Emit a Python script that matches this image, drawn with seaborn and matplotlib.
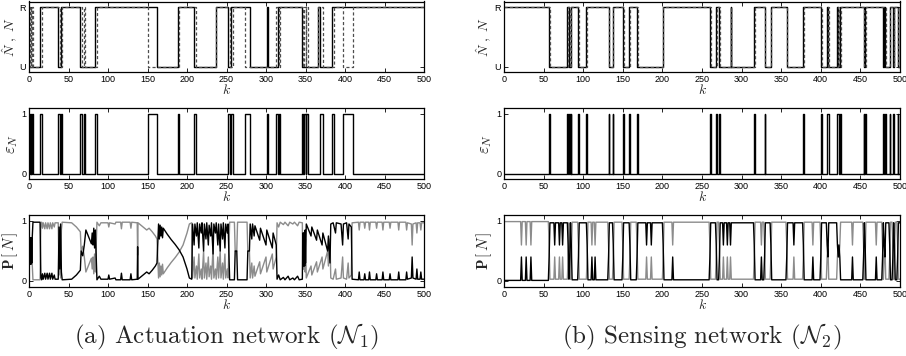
import numpy as np
import pandas as pd
import matplotlib
matplotlib.use("Agg")
import matplotlib.pyplot as plt
import seaborn as sns

# ---------------- data ----------------
K_MAX = 500
x_ticks = [0, 50, 100, 150, 200, 250, 300, 350, 400, 450, 500]
state_labels = ["U", "R"]
captions = [r"(a) Actuation network ($\mathcal{N}_1$)", r"(b) Sensing network ($\mathcal{N}_2$)"]

# true network state N: intervals [start, end) in which N = U (0), otherwise R (1)
n_left_U = [(0, 14), (37, 40), (65, 84), (162, 188), (209, 237), (252, 256), (280, 301),
            (303, 315), (345, 366), (368, 384)]
n_right_U = [(57, 80), (82, 84), (94, 104), (132, 137), (150, 158), (168, 201), (260, 268),
             (272, 286), (287, 316), (329, 337), (357, 378), (400, 408), (409, 421), (422, 424),
             (454, 456), (479, 480), (481, 487), (491, 493), (497, 500)]

# estimation error eps_N: intervals [start, end) where eps_N = 1
eps_left = [(0, 1), (2, 3), (4, 5), (14, 16), (37, 39), (40, 42), (65, 67), (69, 71), (84, 86),
            (151, 162), (188, 190), (209, 211), (252, 254), (256, 258), (273, 280), (301, 303),
            (313, 315), (316, 318), (345, 347), (348, 350), (351, 353), (368, 372), (384, 386),
            (398, 410)]
eps_right = [(57, 58), (80, 81), (82, 83), (84, 85), (94, 95), (104, 105), (132, 133), (137, 138),
             (150, 151), (158, 159), (168, 169), (260, 261), (268, 269), (272, 273), (316, 317),
             (329, 330), (378, 379), (400, 401), (408, 409), (409, 410), (421, 422), (422, 423),
             (424, 425), (454, 455), (456, 457), (479, 480), (481, 482), (487, 488), (491, 492),
             (497, 498)]

# probability trace P[N] (black), as (k, value) vertices
p_left_pts = [(0, 0.5), (0.5, 0.28), (1, 0.72), (1.5, 0.28), (2, 0.72), (2.5, 0.28), (3, 0.72),
    (3.5, 0.3), (4, 0.7), (5, 0.98), (14, 0.98), (15, 0.05), (16, 0.02), (17, 0.12), (18, 0.03),
    (20, 0.13), (21, 0.03), (23, 0.13), (24, 0.03), (26, 0.13), (27, 0.03), (29, 0.13), (30, 0.03),
    (32, 0.1), (33, 0.03), (37, 0.03), (38, 0.9), (39, 0.2), (40, 0.95), (41, 0.15), (42, 0.02),
    (54, 0.03), (60, 0.1), (65, 0.18), (66, 0.5), (68, 0.42), (70, 0.6), (72, 0.85), (79, 0.62),
    (80, 0.8), (81, 0.6), (82, 0.88), (83, 0.55), (84, 0.85), (86, 0.02), (89, 0.08), (91, 0.03),
    (100, 0.03), (101, 0.1), (102, 0.03), (109, 0.05), (110, 0.02), (116, 0.02), (117, 0.13),
    (118, 0.02), (128, 0.02), (129, 0.12), (130, 0.02), (137, 0.03), (137.5, 0.57), (138, 0.03),
    (149, 0.15), (152, 0.12), (156, 0.18), (160, 0.25), (162, 0.3), (164, 0.95), (165, 0.7),
    (166, 0.93), (167, 0.75), (168, 0.9), (169, 0.72), (170, 0.88), (175, 0.78), (180, 0.69),
    (185, 0.61), (190, 0.52), (195, 0.4), (200, 0.2), (203, 0.05), (206, 0.03), (207, 0.95),
    (209, 0.6), (210, 0.95), (212, 0.75), (213, 0.97), (215, 0.55), (216, 0.95), (218, 0.8),
    (219, 0.97), (221, 0.5), (222, 0.95), (224, 0.7), (225, 0.97), (227, 0.6), (228, 0.93),
    (230, 0.75), (231, 0.97), (233, 0.45), (234, 0.95), (236, 0.8), (237, 0.97), (239, 0.6),
    (240, 0.95), (242, 0.5), (243, 0.95), (245, 0.7), (246, 0.97), (248, 0.55), (249, 0.95),
    (251, 0.8), (252, 0.95), (254, 0.02), (260, 0.02), (261, 0.5), (263, 0.5), (264, 0.02),
    (276, 0.02), (277, 0.5), (279, 0.5), (280, 0.95), (282, 0.7), (283, 0.95), (285, 0.75),
    (286, 0.92), (292, 0.68), (293, 0.88), (300, 0.6), (301, 0.85), (308, 0.55), (309, 0.8),
    (313, 0.6), (314, 0.03), (316, 0.1), (318, 0.02), (322, 0.06), (324, 0.02), (328, 0.08),
    (330, 0.02), (334, 0.05), (336, 0.02), (340, 0.08), (342, 0.02), (346, 0.03), (346.5, 0.8),
    (347, 0.25), (347.5, 0.8), (348, 0.25), (348.5, 0.8), (349, 0.25), (349.5, 0.85), (350, 0.3),
    (351, 0.95), (357, 0.75), (358, 0.9), (364, 0.68), (365, 0.85), (371, 0.6), (372, 0.8),
    (378, 0.5), (379, 0.75), (381, 0.3), (382, 0.95), (385, 0.97), (388, 0.8), (389, 0.97),
    (395, 0.95), (397, 0.6), (398, 0.95), (402, 0.97), (404, 0.7), (405, 0.95), (408, 0.9),
    (409, 0.03), (417, 0.02), (418, 0.15), (419, 0.02), (424, 0.02), (425, 0.12), (426, 0.02),
    (430, 0.02), (431, 0.15), (432, 0.02), (439, 0.02), (440, 0.12), (441, 0.02), (447, 0.02),
    (448, 0.15), (449, 0.02), (456, 0.02), (457, 0.12), (458, 0.02), (467, 0.02), (468, 0.15),
    (469, 0.02), (477, 0.02), (478, 0.15), (479, 0.03), (484, 0.05), (485, 0.4), (486, 0.05),
    (490, 0.03), (491, 0.2), (492, 0.03), (495, 0.03), (496, 0.15), (497, 0.03), (500, 0.03)]

p_right_pts = [(0, 0.01), (21, 0.01), (22, 0.4), (23, 0.01), (27, 0.01), (28, 0.4), (29, 0.01),
    (33, 0.01), (34, 0.4), (35, 0.01), (56, 0.01), (57, 0.4), (58, 0.97), (63, 0.97), (64, 0.6),
    (65, 0.97), (69, 0.97), (70, 0.6), (71, 0.97), (73, 0.97), (74, 0.6), (75, 0.97), (80, 0.97),
    (81, 0.6), (82, 0.03), (83, 0.4), (84, 0.97), (85, 0.6), (86, 0.02), (93, 0.02), (94, 0.4),
    (95, 0.97), (104, 0.97), (105, 0.6), (106, 0.02), (110, 0.02), (111, 0.4), (112, 0.02),
    (114, 0.02), (115, 0.4), (116, 0.02), (131, 0.02), (132, 0.4), (133, 0.97), (137, 0.97),
    (138, 0.6), (139, 0.02), (149, 0.02), (150, 0.4), (151, 0.97), (158, 0.97), (159, 0.6),
    (160, 0.02), (167, 0.02), (168, 0.4), (169, 0.97), (179, 0.97), (180, 0.6), (181, 0.97),
    (185, 0.97), (186, 0.6), (187, 0.97), (200, 0.97), (201, 0.6), (202, 0.02), (212, 0.02),
    (213, 0.4), (214, 0.02), (259, 0.02), (260, 0.4), (261, 0.97), (267, 0.97), (268, 0.6),
    (269, 0.02), (271, 0.02), (272, 0.4), (273, 0.97), (276, 0.97), (277, 0.6), (278, 0.97),
    (281, 0.97), (282, 0.6), (283, 0.97), (285, 0.97), (286, 0.6), (287, 0.97), (315, 0.97),
    (316, 0.6), (317, 0.02), (324, 0.02), (325, 0.4), (326, 0.02), (328, 0.02), (329, 0.4),
    (330, 0.97), (336, 0.97), (337, 0.6), (338, 0.02), (356, 0.02), (357, 0.4), (358, 0.97),
    (365, 0.97), (366, 0.6), (367, 0.97), (377, 0.97), (378, 0.6), (379, 0.02), (389, 0.02),
    (390, 0.4), (391, 0.02), (399, 0.02), (400, 0.4), (401, 0.97), (407, 0.97), (408, 0.6),
    (409, 0.4), (410, 0.97), (420, 0.97), (421, 0.6), (422, 0.4), (423, 0.6), (424, 0.4),
    (425, 0.02), (439, 0.02), (440, 0.4), (441, 0.02), (453, 0.02), (454, 0.4), (455, 0.97),
    (456, 0.6), (457, 0.02), (469, 0.02), (470, 0.4), (471, 0.02), (477, 0.02), (478, 0.4),
    (479, 0.97), (480, 0.6), (481, 0.4), (482, 0.97), (486, 0.97), (487, 0.6), (488, 0.02),
    (490, 0.02), (491, 0.4), (492, 0.97), (493, 0.6), (494, 0.02), (496, 0.02), (497, 0.4),
    (498, 0.97), (500, 0.97)]

# ---------------- style ----------------
sns.set_style("ticks")
plt.rcParams["font.family"] = ["Liberation Sans", "DejaVu Sans"]
plt.rcParams["mathtext.fontset"] = "cm"
plt.rcParams["axes.linewidth"] = 0.8
plt.rcParams["axes.unicode_minus"] = False

k = np.arange(0, K_MAX + 1)


def level_series(intervals, base, val):
    arr = np.full(k.shape, base, dtype=float)
    for a, b in intervals:
        arr[a:b] = val
    return arr


fig = plt.figure(figsize=(9.06, 3.56), dpi=100)
col_left = [29 / 906, 504 / 906]
col_w = [395 / 906, 396 / 906]
rows = [(1 - 72 / 356, 70.5 / 356), (1 - 179 / 356, 71 / 356), (1 - 287 / 356, 72 / 356)]

columns = [(n_left_U, eps_left, p_left_pts), (n_right_U, eps_right, p_right_pts)]


def style_axis(ax, ylim):
    ax.set_xlim(0, K_MAX)
    ax.set_ylim(*ylim)
    ax.set_xticks(x_ticks)
    ax.set_xticklabels([str(t) for t in x_ticks])
    ax.tick_params(direction="in", length=3, width=0.6, top=True, right=True,
                   labelsize=6.5, pad=2, colors="black")
    for s in ax.spines.values():
        s.set_visible(True)
        s.set_linewidth(0.9)
        s.set_color("black")
    ax.set_xlabel(r"$k$", fontsize=10, labelpad=-0.5)


LABEL_X = -0.024

for c, (nU, eps, ppts) in enumerate(columns):
    n_true = level_series(nU, 1.0, 0.0)
    e_arr = level_series(eps, 0.0, 1.0)
    n_hat = np.abs(n_true - e_arr)
    df = pd.DataFrame({"k": k, "N": n_true, "Nhat": n_hat, "eps": e_arr})

    # row 1: N and N-hat
    ax1 = fig.add_axes([col_left[c], rows[0][0], col_w[c], rows[0][1]])
    sns.lineplot(data=df, x="k", y="N", ax=ax1, color="black", linewidth=1.0,
                 drawstyle="steps-post", estimator=None, sort=False)
    sns.lineplot(data=df, x="k", y="Nhat", ax=ax1, color="0.3", linewidth=0.9,
                 drawstyle="steps-post", estimator=None, sort=False, dashes=False,
                 linestyle=(0, (2.5, 1.8)))
    style_axis(ax1, (-0.09, 1.1))
    ax1.set_yticks([0, 1])
    ax1.set_yticklabels(state_labels)
    ax1.set_ylabel(r"$\hat{N}\ ,\ N$", fontsize=10)
    ax1.yaxis.set_label_coords(LABEL_X, 0.5)

    # row 2: eps_N
    ax2 = fig.add_axes([col_left[c], rows[1][0], col_w[c], rows[1][1]])
    sns.lineplot(data=df, x="k", y="eps", ax=ax2, color="black", linewidth=1.0,
                 drawstyle="steps-post", estimator=None, sort=False)
    style_axis(ax2, (-0.09, 1.1))
    ax2.set_yticks([0, 1])
    ax2.set_yticklabels(["0", "1"])
    ax2.set_ylabel(r"$\varepsilon_{N}$", fontsize=12)
    ax2.yaxis.set_label_coords(LABEL_X, 0.5)

    # row 3: probabilities
    pk = [p[0] for p in ppts]
    pv = np.array([p[1] for p in ppts])
    dfp = pd.DataFrame({"k": pk, "P": pv, "Q": 1.0 - pv})
    ax3 = fig.add_axes([col_left[c], rows[2][0], col_w[c], rows[2][1]])
    sns.lineplot(data=dfp, x="k", y="Q", ax=ax3, color="0.55", linewidth=1.0,
                 estimator=None, sort=False)
    sns.lineplot(data=dfp, x="k", y="P", ax=ax3, color="black", linewidth=1.0,
                 estimator=None, sort=False)
    style_axis(ax3, (-0.1, 1.1))
    ax3.set_yticks([0, 1])
    ax3.set_yticklabels(["0", "1"])
    ax3.set_ylabel(r"$\mathbf{P}\,[\,N\,]$", fontsize=11)
    ax3.yaxis.set_label_coords(LABEL_X, 0.5)

    xc = col_left[c] + col_w[c] / 2
    fig.text(xc, 1 - 337 / 356, captions[c], ha="center",
             va="center", fontsize=18, family=["cmr10", "DejaVu Serif"])

fig.savefig("out.png", dpi=100)
